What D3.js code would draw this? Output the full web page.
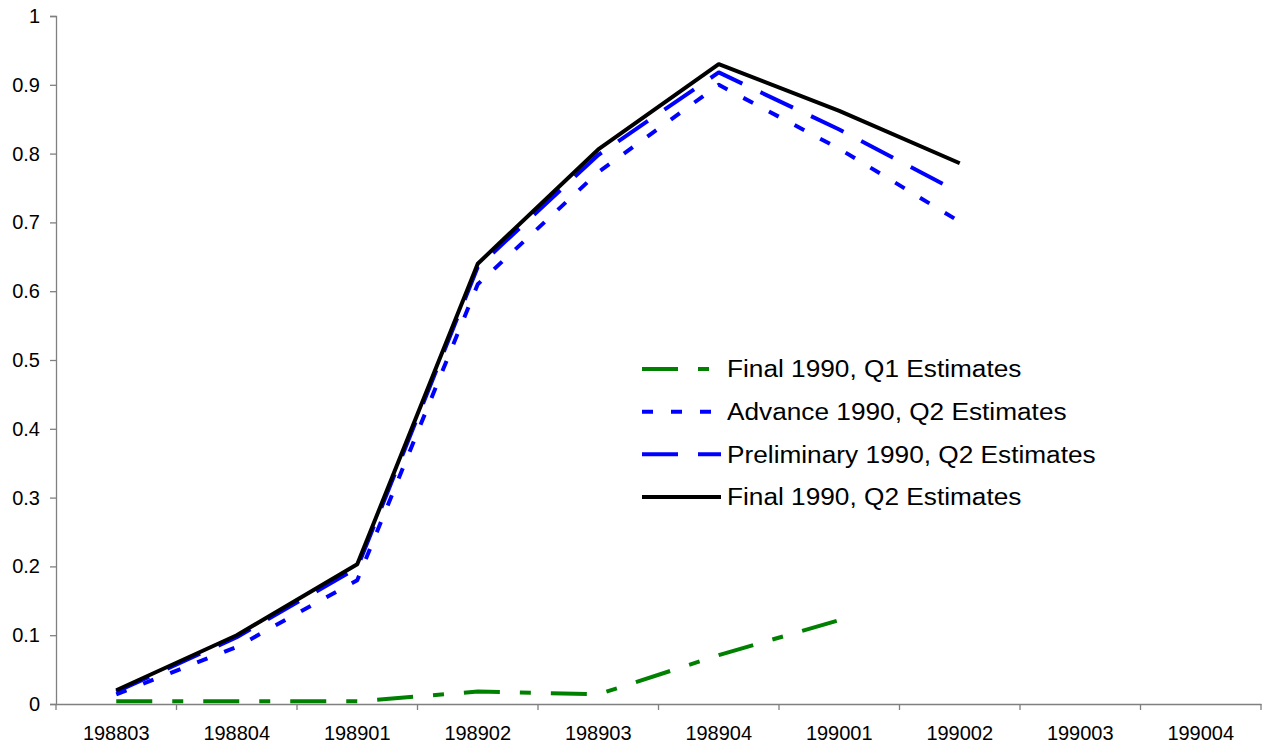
<!DOCTYPE html>
<html>
<head>
<meta charset="utf-8">
<script src="https://cdn.jsdelivr.net/npm/d3@7"></script>
<style>
  html, body { margin: 0; padding: 0; background: #fff; }
  svg { display: block; }
  text { font-family: "Liberation Sans", Arial, sans-serif; fill: #000; }
</style>
</head>
<body>
<svg id="chart" width="1262" height="751"></svg>
<script>
const categories = ["198803","198804","198901","198902","198903","198904","199001","199002","199003","199004"];
const yTicks = [0,0.1,0.2,0.3,0.4,0.5,0.6,0.7,0.8,0.9,1];
const yTickLabels = ["0","0.1","0.2","0.3","0.4","0.5","0.6","0.7","0.8","0.9","1"];

const finalQ1 = [0.004, 0.004, 0.004, 0.018, 0.014, 0.071, 0.122];
const advanceQ2 = [0.014, 0.083, 0.180, 0.610, 0.773, 0.900, 0.807, 0.701];
const prelimQ2 = [0.018, 0.097, 0.198, 0.635, 0.798, 0.918, 0.835, 0.743];
const finalQ2 = [0.020, 0.100, 0.203, 0.640, 0.806, 0.930, 0.862, 0.786];

const seriesNames = ["Final 1990, Q1 Estimates","Advance 1990, Q2 Estimates","Preliminary 1990, Q2 Estimates","Final 1990, Q2 Estimates"];

const series = [
  {name: seriesNames[0], values: finalQ1, color: "#008000", dash: "36,20,11,20"},
  {name: seriesNames[1], values: advanceQ2, color: "#0000FF", dash: "11,18"},
  {name: seriesNames[2], values: prelimQ2, color: "#0000FF", dash: "36,20"},
  {name: seriesNames[3], values: finalQ2, color: "#000000", dash: null}
];

const svg = d3.select("#chart");
const plotLeft = 56, plotRight = 1261, plotTop = 16, plotBottom = 704;

const x = d3.scaleBand().domain(categories).range([plotLeft, plotRight]).padding(0);
const y = d3.scaleLinear().domain([0, 1]).range([plotBottom, plotTop]);

// Y axis
const yAxis = d3.axisLeft(y).tickValues(yTicks).tickFormat((d, i) => yTickLabels[i]).tickSize(6).tickPadding(10);
const gy = svg.append("g").attr("transform", `translate(${plotLeft},0)`).call(yAxis);
gy.select(".domain").attr("stroke", "#808080").attr("stroke-width", 1.3);
gy.selectAll(".tick line").attr("stroke", "#808080").attr("stroke-width", 1.3);
gy.selectAll(".tick text").attr("font-size", 20).attr("font-family", "Liberation Sans, Arial, sans-serif").attr("fill", "#000");

// X axis: labels at band centers, tick marks at band boundaries
const xAxis = d3.axisBottom(x).tickSize(0).tickPadding(22);
const gx = svg.append("g").attr("transform", `translate(0,${plotBottom})`).call(xAxis);
gx.select(".domain").attr("stroke", "#808080").attr("stroke-width", 1.3);
gx.selectAll(".tick text").attr("font-size", 20).attr("font-family", "Liberation Sans, Arial, sans-serif").attr("fill", "#000");

const boundaries = categories.map(c => x(c)).concat([x(categories[categories.length - 1]) + x.bandwidth()]);
svg.append("g").selectAll("line").data(boundaries).join("line")
  .attr("x1", d => d).attr("x2", d => d)
  .attr("y1", plotBottom).attr("y2", plotBottom + 6)
  .attr("stroke", "#808080").attr("stroke-width", 1.3);

// Lines
const line = d3.line()
  .x((d, i) => x(categories[i]) + x.bandwidth() / 2)
  .y(d => y(d));

svg.append("g").selectAll("path").data(series).join("path")
  .attr("d", d => line(d.values))
  .attr("fill", "none")
  .attr("stroke", d => d.color)
  .attr("stroke-width", 4)
  .attr("stroke-linejoin", "round")
  .attr("stroke-dasharray", d => d.dash);

// Legend
const legendX1 = 642, legendX2 = 721, legendTextX = 727;
const legendY = d3.scalePoint().domain(seriesNames).range([369, 497]);
const lg = svg.append("g");
series.forEach(s => {
  const yy = legendY(s.name);
  lg.append("line")
    .attr("x1", legendX1).attr("x2", legendX2)
    .attr("y1", yy).attr("y2", yy)
    .attr("stroke", s.color).attr("stroke-width", 4)
    .attr("stroke-dasharray", s.dash);
  const t = lg.append("text")
    .attr("x", legendTextX).attr("y", yy)
    .attr("dy", "0.36em")
    .attr("font-size", 23)
    .text(s.name);
  const w = t.node().getComputedTextLength();
  t.attr("textLength", w * 1.14).attr("lengthAdjust", "spacingAndGlyphs");
});
</script>
</body>
</html>
